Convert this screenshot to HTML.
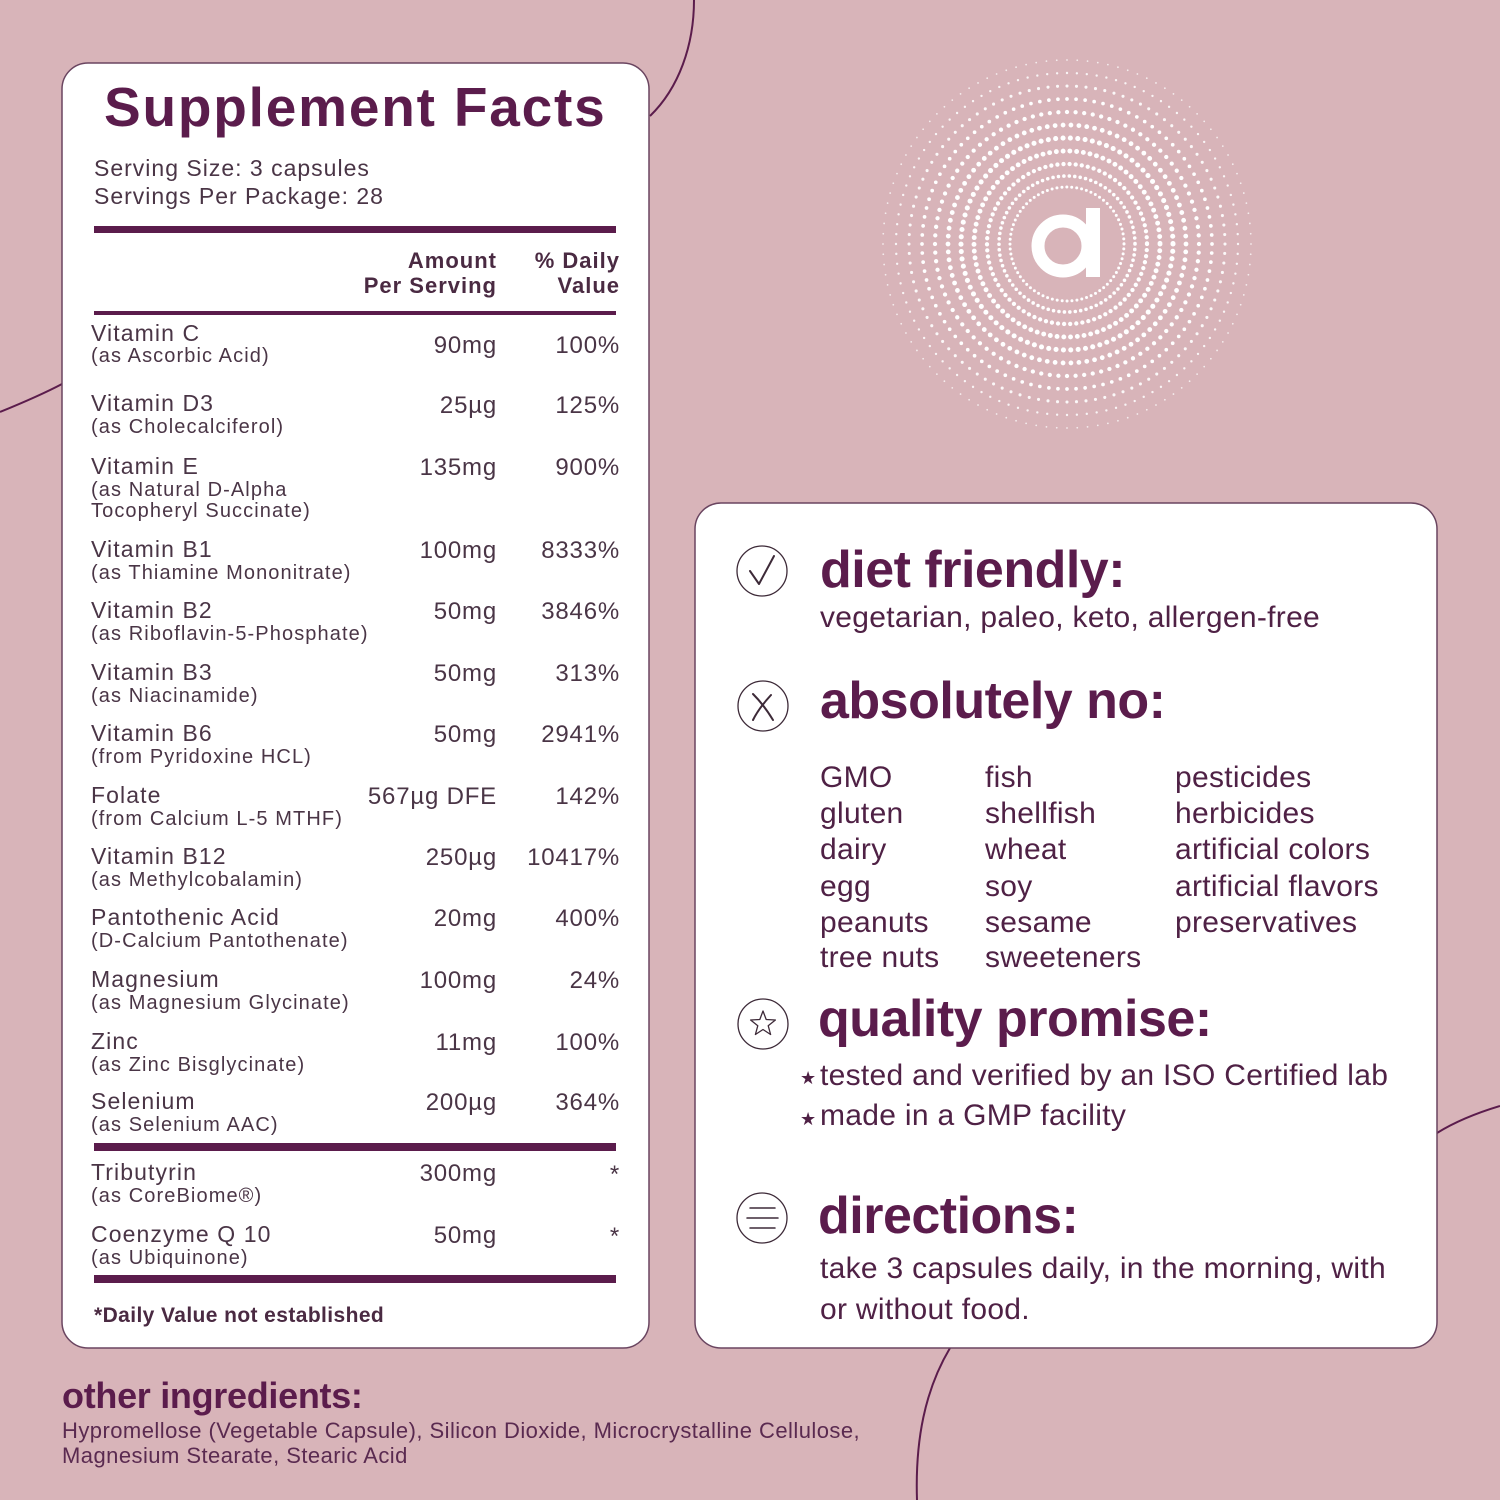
<!DOCTYPE html>
<html><head><meta charset="utf-8"><style>
html,body{margin:0;padding:0;background:#d8b4b9;}
svg{display:block;}
.t{font-family:"Liberation Sans",sans-serif;}
</style></head><body>
<svg width="1500" height="1500" viewBox="0 0 1500 1500" xmlns="http://www.w3.org/2000/svg">
<rect width="1500" height="1500" fill="#d8b4b9"/>
<!-- background curves -->
<g fill="none" stroke="#5b1c4c" stroke-width="2">
<path d="M 694 0 C 694 45 679 88 650 116"/>
<path d="M 0 412 C 22 403 45 393 62 384"/>
<path d="M 1437 1133 C 1458 1120 1480 1112 1500 1106"/>
<path d="M 950 1348 C 925 1390 915 1440 917 1500"/>
</g>
<!-- logo -->
<g fill="none" stroke="#fff" stroke-linecap="round" stroke-dasharray="0 1">
<circle cx="1067" cy="244" r="57" pathLength="72" stroke-width="3"/>
<circle cx="1067" cy="244" r="68" pathLength="78" stroke-width="3.6"/>
<circle cx="1067" cy="244" r="80" pathLength="82" stroke-width="4.3"/>
<circle cx="1067" cy="244" r="93" pathLength="86" stroke-width="4.9"/>
<circle cx="1067" cy="244" r="106" pathLength="90" stroke-width="5.1"/>
<circle cx="1067" cy="244" r="119" pathLength="94" stroke-width="4.8"/>
<circle cx="1067" cy="244" r="132" pathLength="96" stroke-width="4.3"/>
<circle cx="1067" cy="244" r="145" pathLength="100" stroke-width="3.7"/>
<circle cx="1067" cy="244" r="158" pathLength="104" stroke-width="3.1" opacity="0.9"/>
<circle cx="1067" cy="244" r="171" pathLength="108" stroke-width="2.4" opacity="0.85"/>
<circle cx="1067" cy="244" r="184" pathLength="112" stroke-width="1.8" opacity="0.75"/>
</g>
<circle cx="1063" cy="246" r="25" fill="none" stroke="#fff" stroke-width="13"/>
<rect x="1086" y="208" width="14" height="69" fill="#fff"/>

<!-- cards -->
<rect x="62" y="63" width="587" height="1285" rx="26" fill="#fff" stroke="#6a4560" stroke-width="1.5"/>
<rect x="695" y="503" width="742" height="845" rx="26" fill="#fff" stroke="#6a4560" stroke-width="1.5"/>

<!-- Supplement Facts -->
<g class="t">
<text x="104" y="126" font-size="55" font-weight="bold" fill="#5b1c4c" style="letter-spacing:1.8px">Supplement Facts</text>
<g fill="#4a3546" font-size="23" style="letter-spacing:1px">
<text x="94" y="176">Serving Size: 3 capsules</text>
<text x="94" y="204">Servings Per Package: 28</text>
</g>
<rect x="94" y="226" width="522" height="7" fill="#5b1c4c"/>
<g fill="#4a2a42" font-size="22" font-weight="bold" text-anchor="end" style="letter-spacing:1px">
<text x="497" y="268">Amount</text>
<text x="497" y="293">Per Serving</text>
<text x="620" y="268">% Daily</text>
<text x="620" y="293">Value</text>
</g>
<rect x="94" y="311" width="522" height="4" fill="#5b1c4c"/>

<g fill="#4a3546" font-size="23" style="letter-spacing:1.1px">
<text x="91" y="341">Vitamin C</text>
<text x="91" y="411">Vitamin D3</text>
<text x="91" y="474">Vitamin E</text>
<text x="91" y="557">Vitamin B1</text>
<text x="91" y="618">Vitamin B2</text>
<text x="91" y="680">Vitamin B3</text>
<text x="91" y="741">Vitamin B6</text>
<text x="91" y="803">Folate</text>
<text x="91" y="864">Vitamin B12</text>
<text x="91" y="925">Pantothenic Acid</text>
<text x="91" y="987">Magnesium</text>
<text x="91" y="1049">Zinc</text>
<text x="91" y="1109">Selenium</text>
<text x="91" y="1180">Tributyrin</text>
<text x="91" y="1242">Coenzyme Q 10</text>
</g>
<g fill="#4a3546" font-size="20" style="letter-spacing:1.1px">
<text x="91" y="362">(as Ascorbic Acid)</text>
<text x="91" y="433">(as Cholecalciferol)</text>
<text x="91" y="496">(as Natural D-Alpha</text>
<text x="91" y="517">Tocopheryl Succinate)</text>
<text x="91" y="579">(as Thiamine Mononitrate)</text>
<text x="91" y="640">(as Riboflavin-5-Phosphate)</text>
<text x="91" y="702">(as Niacinamide)</text>
<text x="91" y="763">(from Pyridoxine HCL)</text>
<text x="91" y="825">(from Calcium L-5 MTHF)</text>
<text x="91" y="886">(as Methylcobalamin)</text>
<text x="91" y="947">(D-Calcium Pantothenate)</text>
<text x="91" y="1009">(as Magnesium Glycinate)</text>
<text x="91" y="1071">(as Zinc Bisglycinate)</text>
<text x="91" y="1131">(as Selenium AAC)</text>
<text x="91" y="1202">(as CoreBiome®)</text>
<text x="91" y="1264">(as Ubiquinone)</text>
</g>
<g fill="#4a3546" font-size="24" text-anchor="end" style="letter-spacing:0.8px">
<text x="497" y="353">90mg</text><text x="620" y="353">100%</text>
<text x="497" y="413">25µg</text><text x="620" y="413">125%</text>
<text x="497" y="475">135mg</text><text x="620" y="475">900%</text>
<text x="497" y="558">100mg</text><text x="620" y="558">8333%</text>
<text x="497" y="619">50mg</text><text x="620" y="619">3846%</text>
<text x="497" y="681">50mg</text><text x="620" y="681">313%</text>
<text x="497" y="742">50mg</text><text x="620" y="742">2941%</text>
<text x="497" y="804">567µg DFE</text><text x="620" y="804">142%</text>
<text x="497" y="865">250µg</text><text x="620" y="865">10417%</text>
<text x="497" y="926">20mg</text><text x="620" y="926">400%</text>
<text x="497" y="988">100mg</text><text x="620" y="988">24%</text>
<text x="497" y="1050">11mg</text><text x="620" y="1050">100%</text>
<text x="497" y="1110">200µg</text><text x="620" y="1110">364%</text>
<text x="497" y="1181">300mg</text><text x="620" y="1182">*</text>
<text x="497" y="1243">50mg</text><text x="620" y="1244">*</text>
</g>
<rect x="94" y="1143" width="522" height="8" fill="#5b1c4c"/>
<rect x="94" y="1275" width="522" height="8" fill="#5b1c4c"/>
<text x="94" y="1322" font-size="21" font-weight="bold" fill="#4a2a42" style="letter-spacing:0.4px">*Daily Value not established</text>
</g>

<!-- right card icons -->
<g fill="none" stroke="#3d2a38" stroke-width="1.3">
<circle cx="762" cy="571" r="25"/>
<circle cx="763" cy="706" r="25"/>
<circle cx="763" cy="1024" r="25"/>
<circle cx="762" cy="1218" r="25"/>
</g>
<g fill="none" stroke="#3d2a38" stroke-width="2" stroke-linecap="round" stroke-linejoin="round">
<path d="M 750 571 L 759 584 L 774 556"/>
<path d="M 753 694 Q 764 705 773 720"/>
<path d="M 771 695 Q 759 708 753 720"/>
<polygon stroke-width="1.3" points="763,1011 766.2,1019.5 775.4,1020 768.2,1025.7 770.6,1034.5 763,1029.5 755.4,1034.5 757.8,1025.7 750.6,1020 759.8,1019.5"/>
<path stroke-width="1.5" d="M 750 1208 H 775 M 747 1218 H 778 M 750 1228 H 775"/>
</g>

<!-- right card text -->
<g class="t">
<g fill="#5b1c4c" font-size="52" font-weight="bold" style="letter-spacing:-0.5px">
<text x="820" y="587">diet friendly:</text>
<text x="820" y="718">absolutely no:</text>
<text x="818" y="1036">quality promise:</text>
<text x="818" y="1233">directions:</text>
</g>
<g fill="#4f2145" font-size="30" style="letter-spacing:0.3px">
<text x="820" y="627">vegetarian, paleo, keto, allergen-free</text>
<text x="820" y="787">GMO</text><text x="985" y="787">fish</text><text x="1175" y="787">pesticides</text>
<text x="820" y="823">gluten</text><text x="985" y="823">shellfish</text><text x="1175" y="823">herbicides</text>
<text x="820" y="859">dairy</text><text x="985" y="859">wheat</text><text x="1175" y="859">artificial colors</text>
<text x="820" y="896">egg</text><text x="985" y="896">soy</text><text x="1175" y="896">artificial flavors</text>
<text x="820" y="932">peanuts</text><text x="985" y="932">sesame</text><text x="1175" y="932">preservatives</text>
<text x="820" y="967">tree nuts</text><text x="985" y="967">sweeteners</text>
<text x="820" y="1085">tested and verified by an ISO Certified lab</text>
<text x="820" y="1125">made in a GMP facility</text>
<text x="820" y="1278">take 3 capsules daily, in the morning, with</text>
<text x="820" y="1319">or without food.</text>
</g>
<g fill="#4f2145" font-size="18">
<text x="800" y="1084">★</text>
<text x="800" y="1125">★</text>
</g>
<!-- other ingredients -->
<text x="62" y="1408" font-size="36" font-weight="bold" fill="#5b1c4c" style="letter-spacing:-0.3px">other ingredients:</text>
<g fill="#5a2a50" font-size="22" style="letter-spacing:0.45px">
<text x="62" y="1438">Hypromellose (Vegetable Capsule), Silicon Dioxide,  Microcrystalline Cellulose,</text>
<text x="62" y="1463">Magnesium Stearate, Stearic Acid</text>
</g>
</g>
</svg>
</body></html>
